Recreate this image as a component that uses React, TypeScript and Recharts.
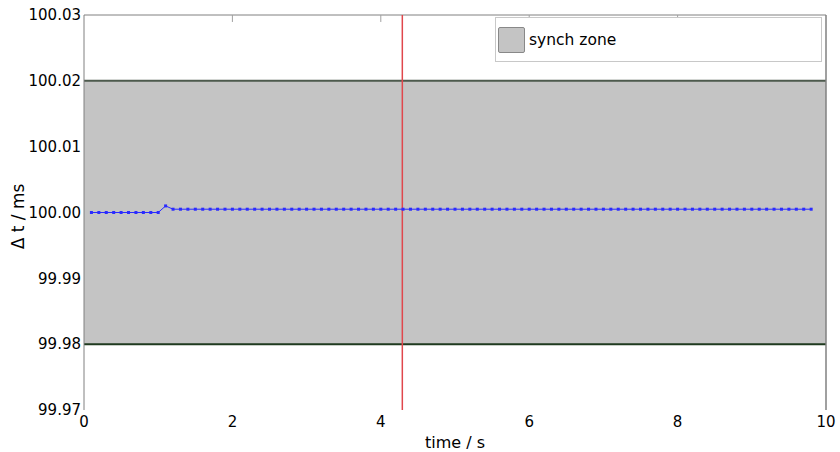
import React from "react";
import {
  ComposedChart,
  Line,
  XAxis,
  YAxis,
  ReferenceArea,
  ReferenceLine,
  Label,
} from "recharts";

// sample times (s)
const times = [
  0.1, 0.2, 0.3, 0.4, 0.5, 0.6, 0.7, 0.8, 0.9, 1.0,
  1.1, 1.2, 1.3, 1.4, 1.5, 1.6, 1.7, 1.8, 1.9, 2.0,
  2.1, 2.2, 2.3, 2.4, 2.5, 2.6, 2.7, 2.8, 2.9, 3.0,
  3.1, 3.2, 3.3, 3.4, 3.5, 3.6, 3.7, 3.8, 3.9, 4.0,
  4.1, 4.2, 4.3, 4.4, 4.5, 4.6, 4.7, 4.8, 4.9, 5.0,
  5.1, 5.2, 5.3, 5.4, 5.5, 5.6, 5.7, 5.8, 5.9, 6.0,
  6.1, 6.2, 6.3, 6.4, 6.5, 6.6, 6.7, 6.8, 6.9, 7.0,
  7.1, 7.2, 7.3, 7.4, 7.5, 7.6, 7.7, 7.8, 7.9, 8.0,
  8.1, 8.2, 8.3, 8.4, 8.5, 8.6, 8.7, 8.8, 8.9, 9.0,
  9.1, 9.2, 9.3, 9.4, 9.5, 9.6, 9.7, 9.8,
];

// measured delta t (ms)
const deltaT = [
  100.0, 100.0, 100.0, 100.0, 100.0, 100.0, 100.0, 100.0, 100.0, 100.0,
  100.001, 100.0005, 100.0005, 100.0005, 100.0005, 100.0005, 100.0005, 100.0005, 100.0005, 100.0005,
  100.0005, 100.0005, 100.0005, 100.0005, 100.0005, 100.0005, 100.0005, 100.0005, 100.0005, 100.0005,
  100.0005, 100.0005, 100.0005, 100.0005, 100.0005, 100.0005, 100.0005, 100.0005, 100.0005, 100.0005,
  100.0005, 100.0005, 100.0005, 100.0005, 100.0005, 100.0005, 100.0005, 100.0005, 100.0005, 100.0005,
  100.0005, 100.0005, 100.0005, 100.0005, 100.0005, 100.0005, 100.0005, 100.0005, 100.0005, 100.0005,
  100.0005, 100.0005, 100.0005, 100.0005, 100.0005, 100.0005, 100.0005, 100.0005, 100.0005, 100.0005,
  100.0005, 100.0005, 100.0005, 100.0005, 100.0005, 100.0005, 100.0005, 100.0005, 100.0005, 100.0005,
  100.0005, 100.0005, 100.0005, 100.0005, 100.0005, 100.0005, 100.0005, 100.0005, 100.0005, 100.0005,
  100.0005, 100.0005, 100.0005, 100.0005, 100.0005, 100.0005, 100.0005, 100.0005,
];

const xTicks = [0, 2, 4, 6, 8, 10];
const topTicks = [2, 4, 6, 8];
const yTicks = [99.97, 99.98, 99.99, 100.0, 100.01, 100.02, 100.03];

const yMin = 99.97;
const yMax = 100.03;
const synchLow = 99.98;
const synchHigh = 100.02;
const markerTime = 4.29;
const zoneName = "synch zone";

const FONT = "'DejaVu Sans', Verdana, sans-serif";
// length of the top frame tick marks, in data units (~7px)
const TOP_TICK_LEN = 0.00106;

const chartData = times.map((t, i) => ({ t, dt: deltaT[i] }));

const SquareDot = (props: any) => {
  const { cx, cy } = props;
  if (cx == null || cy == null) return null;
  return <rect x={cx - 1.5} y={cy - 1.5} width={3} height={3} fill="#2b2bff" />;
};

export default function App() {
  return (
    <div style={{ position: "absolute", left: 0, top: 0, width: 840, height: 452, fontFamily: FONT }}>
      <ComposedChart
        width={840}
        height={452}
        data={chartData}
        margin={{ top: 15, right: 14, left: 0, bottom: 0 }}
      >
        <XAxis
          dataKey="t"
          type="number"
          domain={[0, 10]}
          ticks={xTicks}
          axisLine={false}
          tickLine={false}
          tickSize={0}
          tickMargin={6}
          height={42}
          tick={{ fontSize: 15, fill: "#000", fontFamily: FONT }}
        >
          <Label
            value="time / s"
            position="insideBottom"
            offset={4}
            fill="#000"
            fontSize={16}
            fontFamily={FONT}
          />
        </XAxis>
        <YAxis
          type="number"
          domain={[yMin, yMax]}
          ticks={yTicks}
          width={84}
          axisLine={{ stroke: "#808080" }}
          tickLine={false}
          tickSize={0}
          tickMargin={3}
          tickFormatter={(v) => Number(v).toFixed(2)}
          tick={{ fontSize: 15, fill: "#000", fontFamily: FONT }}
        >
          <Label
            value="Δ t / ms"
            angle={-90}
            position="insideLeft"
            offset={18}
            dy={4}
            fill="#000"
            fontSize={17}
            fontFamily={FONT}
            style={{ textAnchor: "middle" }}
          />
        </YAxis>

        <ReferenceArea
          y1={synchLow}
          y2={synchHigh}
          fill="#c4c4c4"
          fillOpacity={1}
          stroke="none"
        />
        <ReferenceLine y={synchHigh} stroke="#4d5a4d" strokeWidth={2} />
        <ReferenceLine y={synchLow} stroke="#1f3a1f" strokeWidth={2} />

        {/* frame: top edge, right edge and top tick marks */}
        <ReferenceLine y={yMax} stroke="#808080" strokeWidth={1} />
        <ReferenceLine x={10} stroke="#808080" strokeWidth={1.5} />
        {topTicks.map((t) => (
          <ReferenceLine
            key={t}
            segment={[
              { x: t, y: yMax },
              { x: t, y: yMax - TOP_TICK_LEN },
            ]}
            stroke="#a0a0a0"
            strokeWidth={1}
          />
        ))}

        <ReferenceLine x={markerTime} stroke="#e0474c" strokeWidth={1.5} />

        <Line
          type="linear"
          dataKey="dt"
          name={zoneName}
          stroke="#2b2bff"
          strokeWidth={1}
          dot={<SquareDot />}
          activeDot={false}
          isAnimationActive={false}
        />
      </ComposedChart>

      {/* legend box */}
      <div
        style={{
          position: "absolute",
          left: 495,
          top: 17,
          width: 327,
          height: 45,
          border: "1px solid #c8c8c8",
          background: "#fff",
          boxSizing: "border-box",
          display: "flex",
          alignItems: "center",
        }}
      >
        <span
          style={{
            width: 27,
            height: 26,
            marginLeft: 2,
            background: "#c4c4c4",
            border: "1px solid #888",
            borderRadius: 2,
            boxSizing: "border-box",
          }}
        />
        <span style={{ marginLeft: 4, fontSize: 15.5, color: "#000" }}>{zoneName}</span>
      </div>
    </div>
  );
}
